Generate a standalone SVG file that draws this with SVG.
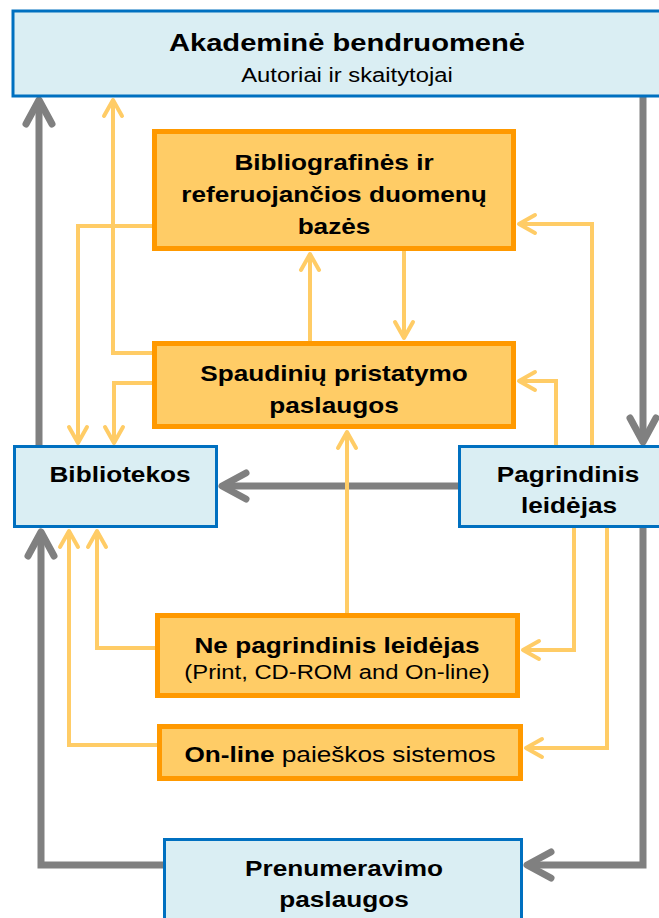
<svg xmlns="http://www.w3.org/2000/svg" width="659" height="918" viewBox="0 0 659 918">
<style>
.bl{fill:#DAEEF3;stroke:#0070C0;stroke-width:3}
.or{fill:#FFCC66;stroke:#FF9900;stroke-width:5}
text{font-family:"Liberation Sans",Arial,sans-serif;fill:#000;text-anchor:middle}
.t{font-size:24.5px;font-weight:bold}
.b{font-size:22px;font-weight:bold}
.r{font-size:20px;font-weight:normal}
.g{fill:none;stroke:#808080;stroke-width:7;marker-end:url(#ag)}
.o{fill:none;stroke:#FFCC66;stroke-width:4;marker-end:url(#ao)}
</style>
<defs>
<marker id="ag" markerUnits="userSpaceOnUse" viewBox="-30 -20 36 40" refX="0" refY="0" markerWidth="36" markerHeight="40" orient="auto" overflow="visible">
<path d="M-24,-13 L0,0 L-24,13" fill="none" stroke="#808080" stroke-width="7" stroke-linecap="round" stroke-linejoin="round"/>
</marker>
<marker id="ao" markerUnits="userSpaceOnUse" viewBox="-20 -12 24 24" refX="0" refY="0" markerWidth="24" markerHeight="24" orient="auto" overflow="visible">
<path d="M-16,-9 L0,0 L-16,9" fill="none" stroke="#FFCC66" stroke-width="4" stroke-linecap="round" stroke-linejoin="round"/>
</marker>
</defs>
<g id="connectors">
<path class="g" d="M39 446 V100"/>
<path class="g" d="M643 97 V442"/>
<path class="g" d="M458 486 H222"/>
<path class="g" d="M643 528 V865 H527"/>
<path class="g" d="M163 865 H41 V532"/>
<path class="o" d="M152 353 H113 V100"/>
<path class="o" d="M152 226 H78 V443"/>
<path class="o" d="M152 383 H114 V443"/>
<path class="o" d="M310 341 V254"/>
<path class="o" d="M404 251 V338"/>
<path class="o" d="M592 445 V224 H519"/>
<path class="o" d="M556 445 V381 H519"/>
<path class="o" d="M347 613 V432"/>
<path class="o" d="M574 528 V650 H523"/>
<path class="o" d="M607 528 V748 H526"/>
<path class="o" d="M155 648 H97 V531"/>
<path class="o" d="M157 745 H69 V531"/>
</g>
<g id="akademine">
<rect class="bl" x="13" y="11" width="680" height="85"/>
<text class="t" transform="translate(347 0) scale(1.19 1)" y="51">Akademinė bendruomenė</text>
<text class="r" transform="translate(347 0) scale(1.19 1)" y="82">Autoriai ir skaitytojai</text>
</g>
<g id="bibliografines">
<rect class="or" x="154.5" y="131.5" width="359" height="117"/>
<text class="b" transform="translate(334 0) scale(1.19 1)" y="170">Bibliografinės ir</text>
<text class="b" transform="translate(334 0) scale(1.19 1)" y="202">referuojančios duomenų</text>
<text class="b" transform="translate(334 0) scale(1.19 1)" y="234">bazės</text>
</g>
<g id="spaudiniu">
<rect class="or" x="154.5" y="343.5" width="359" height="83"/>
<text class="b" transform="translate(334 0) scale(1.19 1)" y="381">Spaudinių pristatymo</text>
<text class="b" transform="translate(334 0) scale(1.19 1)" y="413">paslaugos</text>
</g>
<g id="bibliotekos">
<rect class="bl" x="14.5" y="446.5" width="202" height="80"/>
<text class="b" transform="translate(120 0) scale(1.19 1)" y="482">Bibliotekos</text>
</g>
<g id="pagrindinis">
<rect class="bl" x="459.5" y="446.5" width="230" height="80"/>
<text class="b" transform="translate(568 0) scale(1.19 1)" y="482">Pagrindinis</text>
<text class="b" transform="translate(569 0) scale(1.19 1)" y="513">leidėjas</text>
</g>
<g id="ne-pagrindinis">
<rect class="or" x="157.5" y="615.5" width="360" height="80"/>
<text class="b" transform="translate(337 0) scale(1.19 1)" y="653">Ne pagrindinis leidėjas</text>
<text class="r" transform="translate(337 0) scale(1.19 1)" y="679">(Print, CD-ROM and On-line)</text>
</g>
<g id="online">
<rect class="or" x="159.5" y="726.5" width="361" height="52"/>
<text class="r" style="font-size:22px" transform="translate(340 0) scale(1.19 1)" y="762"><tspan font-weight="bold">On-line</tspan> paieškos sistemos</text>
</g>
<g id="prenumeravimo">
<rect class="bl" x="164.5" y="839.5" width="357" height="100"/>
<text class="b" transform="translate(344 0) scale(1.19 1)" y="876">Prenumeravimo</text>
<text class="b" transform="translate(344 0) scale(1.19 1)" y="907">paslaugos</text>
</g>
</svg>
